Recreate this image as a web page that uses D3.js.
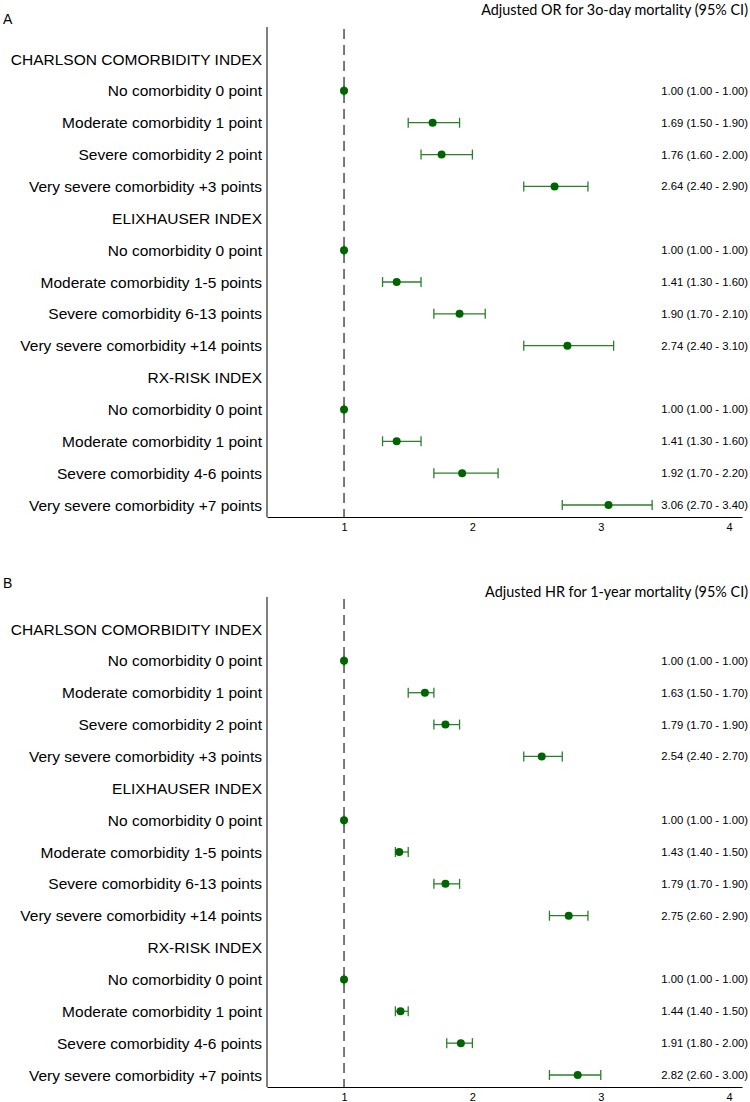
<!DOCTYPE html>
<html>
<head>
<meta charset="utf-8">
<script src="https://cdn.jsdelivr.net/npm/d3@7"></script>
<style>
  body { margin: 0; background: #fff; }
  svg { display: block; }
  .lbl { font-family: "Liberation Sans", Arial, sans-serif; }
  .ttl { font-family: Lato, "Open Sans", sans-serif; }
</style>
</head>
<body>
<div id="chart"></div>
<script>
// row labels (same for both panels)
const rowLabels = [
    'CHARLSON COMORBIDITY INDEX',
    'No comorbidity 0 point',
    'Moderate comorbidity 1 point',
    'Severe comorbidity 2 point',
    'Very severe comorbidity +3 points',
    'ELIXHAUSER INDEX',
    'No comorbidity 0 point',
    'Moderate comorbidity 1-5 points',
    'Severe comorbidity 6-13 points',
    'Very severe comorbidity +14 points',
    'RX-RISK INDEX',
    'No comorbidity 0 point',
    'Moderate comorbidity 1 point',
    'Severe comorbidity 4-6 points',
    'Very severe comorbidity +7 points'
];

// panel A: adjusted OR for 30-day mortality
const orEst  = [null, 1.00, 1.69, 1.76, 2.64, null, 1.00, 1.41, 1.90, 2.74, null, 1.00, 1.41, 1.92, 3.06];
const orLow  = [null, 1.00, 1.50, 1.60, 2.40, null, 1.00, 1.30, 1.70, 2.40, null, 1.00, 1.30, 1.70, 2.70];
const orHigh = [null, 1.00, 1.90, 2.00, 2.90, null, 1.00, 1.60, 2.10, 3.10, null, 1.00, 1.60, 2.20, 3.40];

// panel B: adjusted HR for 1-year mortality
const hrEst  = [null, 1.00, 1.63, 1.79, 2.54, null, 1.00, 1.43, 1.79, 2.75, null, 1.00, 1.44, 1.91, 2.82];
const hrLow  = [null, 1.00, 1.50, 1.70, 2.40, null, 1.00, 1.40, 1.70, 2.60, null, 1.00, 1.40, 1.80, 2.60];
const hrHigh = [null, 1.00, 1.70, 1.90, 2.70, null, 1.00, 1.50, 1.90, 2.90, null, 1.00, 1.50, 2.00, 3.00];

const xTicks = [1, 2, 3, 4];
const xDomain = [0.4, 4.1];
const refValue = 1;

const width = 750;
const height = 1102;

const svg = d3.select('#chart').append('svg')
    .attr('width', width)
    .attr('height', height);

drawPanel({
    letter: 'A',
    title: 'Adjusted OR for 3o-day mortality (95% CI)',
    est: orEst, low: orLow, high: orHigh,
    top: 27, titleY: 10, letterY: 19
});

drawPanel({
    letter: 'B',
    title: 'Adjusted HR for 1-year mortality (95% CI)',
    est: hrEst, low: hrLow, high: hrHigh,
    top: 597, titleY: 592, letterY: 583
});

function drawPanel(p) {
    const plotLeft = 267;
    const plotRight = 742;
    const plotHeight = 490;

    const g = svg.append('g');

    const x = d3.scaleLinear()
        .domain(xDomain)
        .range([plotLeft, plotRight]);

    const y = d3.scalePoint()
        .domain(d3.range(rowLabels.length))
        .range([p.top + 32, p.top + 478]);

    const bottom = p.top + plotHeight;

    // panel letter + title
    g.append('text')
        .attr('class', 'lbl')
        .attr('x', 3)
        .attr('y', p.letterY)
        .attr('dy', '0.36em')
        .style('font-size', '14px')
        .text(p.letter);

    g.append('text')
        .attr('class', 'ttl')
        .attr('x', 748)
        .attr('y', p.titleY)
        .attr('dy', '0.36em')
        .attr('text-anchor', 'end')
        .style('font-size', '14.4px')
        .text(p.title);

    // reference line at 1
    g.append('line')
        .attr('x1', x(refValue))
        .attr('x2', x(refValue))
        .attr('y1', p.top + 2)
        .attr('y2', bottom)
        .attr('stroke', '#333')
        .attr('stroke-width', 1.3)
        .attr('stroke-dasharray', '10,6');

    // axes
    const xAxis = d3.axisBottom(x)
        .tickValues(xTicks)
        .tickSize(0)
        .tickPadding(6)
        .tickFormat(d3.format('d'));
    const xg = g.append('g')
        .attr('transform', 'translate(0,' + bottom + ')')
        .call(xAxis);
    xg.select('.domain').attr('stroke', '#000');
    xg.selectAll('text')
        .attr('class', 'lbl')
        .style('font-size', '11px')
        .attr('fill', '#000');

    g.append('line')
        .attr('x1', plotLeft)
        .attr('x2', plotLeft)
        .attr('y1', p.top)
        .attr('y2', bottom)
        .attr('stroke', '#000');

    // row labels
    g.selectAll('.row-label')
        .data(rowLabels)
        .enter()
        .append('text')
        .attr('class', 'lbl')
        .attr('x', 262)
        .attr('y', (d, i) => y(i))
        .attr('dy', '0.36em')
        .attr('text-anchor', 'end')
        .style('font-size', '15.5px')
        .text(d => d);

    const rows = d3.range(rowLabels.length).filter(i => p.est[i] !== null);

    // CI whiskers
    const ci = g.selectAll('.ci')
        .data(rows)
        .enter()
        .append('g')
        .attr('stroke', '#2a7f2a')
        .attr('stroke-width', 1.3);
    ci.append('line')
        .attr('x1', i => x(p.low[i]))
        .attr('x2', i => x(p.high[i]))
        .attr('y1', i => y(i))
        .attr('y2', i => y(i));
    ci.append('line')
        .attr('x1', i => x(p.low[i]))
        .attr('x2', i => x(p.low[i]))
        .attr('y1', i => y(i) - 5)
        .attr('y2', i => y(i) + 5);
    ci.append('line')
        .attr('x1', i => x(p.high[i]))
        .attr('x2', i => x(p.high[i]))
        .attr('y1', i => y(i) - 5)
        .attr('y2', i => y(i) + 5);

    // point estimates
    g.selectAll('.pt')
        .data(rows)
        .enter()
        .append('circle')
        .attr('cx', i => x(p.est[i]))
        .attr('cy', i => y(i))
        .attr('r', 4)
        .attr('fill', '#006400');

    // value text
    const f = d3.format('.2f');
    g.selectAll('.val')
        .data(rows)
        .enter()
        .append('text')
        .attr('class', 'lbl')
        .attr('x', 748)
        .attr('y', i => y(i))
        .attr('dy', '0.36em')
        .attr('text-anchor', 'end')
        .style('font-size', '11.3px')
        .text(i => f(p.est[i]) + ' (' + f(p.low[i]) + ' - ' + f(p.high[i]) + ')');
}
</script>
</body>
</html>
